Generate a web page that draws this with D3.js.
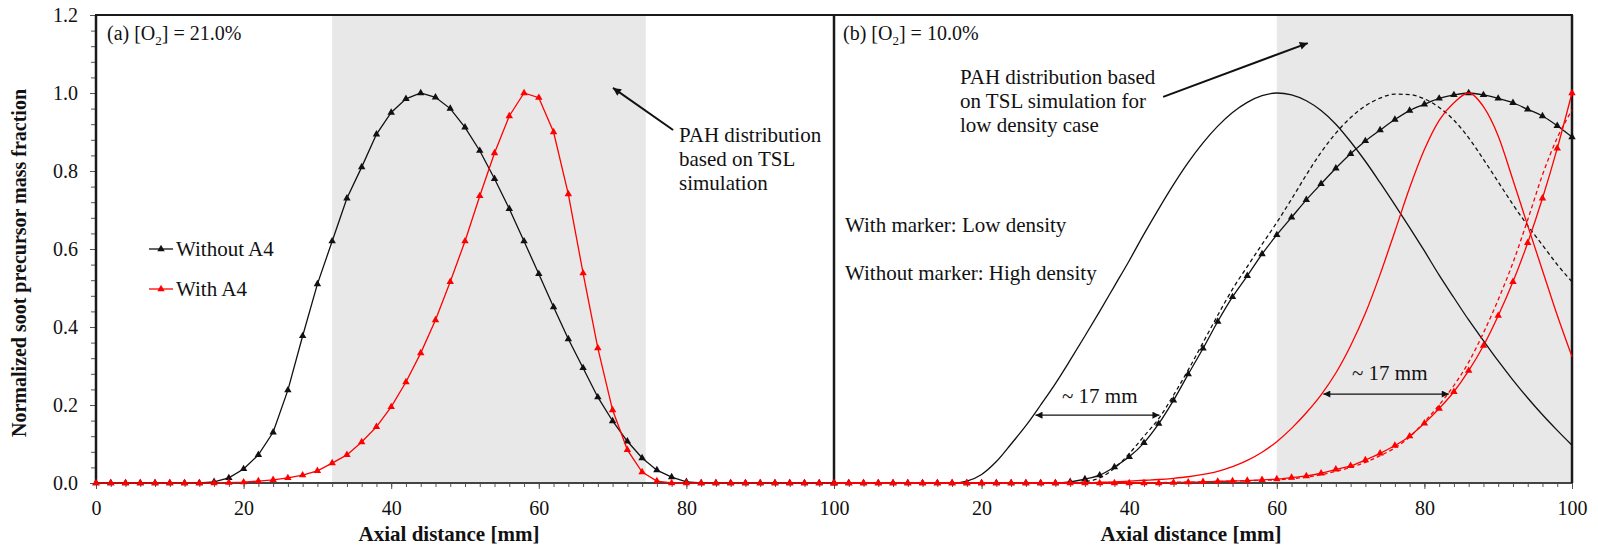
<!DOCTYPE html>
<html>
<head>
<meta charset="utf-8">
<script src="https://cdn.jsdelivr.net/npm/d3@7"></script>
<style>
  body { margin: 0; background: #fff; }
  svg text { font-family: "Liberation Serif", "Times New Roman", serif; fill: #111; }
</style>
</head>
<body>
<svg id="chart" width="1598" height="552"></svg>
<script>
// sample positions along the axis [mm]
const axial = [0, 2, 4, 6, 8, 10, 12, 14, 16, 18, 20, 22, 24, 26, 28, 30, 32, 34, 36, 38, 40,
  42, 44, 46, 48, 50, 52, 54, 56, 58, 60, 62, 64, 66, 68, 70, 72, 74, 76, 78, 80,
  82, 84, 86, 88, 90, 92, 94, 96, 98, 100]

// (a) [O2] = 21.0%
const a_withoutA4 = [0, 0, 0, 0, 0, 0, 0, 0, 0.003, 0.013, 0.036, 0.072, 0.13, 0.238, 0.377, 0.51, 0.62, 0.73, 0.81, 0.894, 0.95,
  0.985, 1.0, 0.989, 0.96, 0.912, 0.852, 0.78, 0.703, 0.62, 0.536, 0.451, 0.369, 0.295, 0.22, 0.159, 0.107, 0.064, 0.033, 0.015, 0.003,
  0, 0, 0, 0, 0, 0, 0, 0, 0, 0]
const a_withA4 = [0, 0, 0, 0, 0, 0, 0, 0, 0, 0.001, 0.002, 0.005, 0.008, 0.013, 0.02, 0.031, 0.051, 0.072, 0.105, 0.144, 0.195,
  0.259, 0.333, 0.418, 0.516, 0.62, 0.736, 0.846, 0.941, 1.0, 0.988, 0.9, 0.741, 0.538, 0.346, 0.187, 0.085, 0.028, 0.005, 0, 0,
  0, 0, 0, 0, 0, 0, 0, 0, 0, 0]

// (b) [O2] = 10.0%  -- marker = low density, no marker = high density, dashed = high density shifted
const b_lowNoA4 = [0, 0, 0, 0, 0, 0, 0, 0, 0, 0, 0, 0, 0, 0, 0, 0, 0.003, 0.01, 0.02, 0.041, 0.067,
  0.103, 0.152, 0.212, 0.279, 0.345, 0.414, 0.477, 0.531, 0.587, 0.636, 0.681, 0.726, 0.767, 0.807, 0.844, 0.877, 0.905, 0.932, 0.955, 0.971,
  0.986, 0.995, 1.0, 0.995, 0.986, 0.975, 0.958, 0.941, 0.916, 0.887]
const b_lowA4 = [0, 0, 0, 0, 0, 0, 0, 0, 0, 0, 0, 0, 0, 0, 0, 0, 0, 0, 0, 0, 0,
  0, 0, 0.001, 0.002, 0.003, 0.004, 0.005, 0.006, 0.008, 0.01, 0.014, 0.018, 0.025, 0.035, 0.044, 0.059, 0.076, 0.096, 0.12, 0.153,
  0.191, 0.234, 0.288, 0.352, 0.429, 0.516, 0.616, 0.73, 0.858, 1.0]
const b_highNoA4 = [0, 0, 0, 0, 0, 0, 0, 0, 0, 0.005, 0.022, 0.055, 0.1, 0.147, 0.2, 0.255, 0.315, 0.377, 0.44, 0.505, 0.57,
  0.638, 0.703, 0.765, 0.822, 0.872, 0.915, 0.95, 0.976, 0.993, 1.0, 0.995, 0.98, 0.955, 0.92, 0.875, 0.825, 0.77, 0.713, 0.655, 0.595,
  0.533, 0.475, 0.418, 0.365, 0.313, 0.264, 0.218, 0.175, 0.135, 0.097]
const b_highA4 = [0, 0, 0, 0, 0, 0, 0, 0, 0, 0, 0, 0, 0, 0, 0, 0, 0, 0, 0.002, 0.003, 0.005,
  0.007, 0.009, 0.012, 0.016, 0.022, 0.03, 0.042, 0.058, 0.079, 0.106, 0.14, 0.18, 0.226, 0.282, 0.352, 0.435, 0.535, 0.645, 0.757, 0.855,
  0.93, 0.975, 1.0, 0.965, 0.89, 0.777, 0.66, 0.545, 0.43, 0.324]
const b_shiftNoA4 = [0, 0, 0, 0, 0, 0, 0, 0, 0, 0, 0, 0, 0, 0, 0, 0, 0, 0.003, 0.013, 0.038, 0.075,
  0.12, 0.165, 0.225, 0.29, 0.36, 0.43, 0.497, 0.555, 0.612, 0.668, 0.728, 0.79, 0.848, 0.897, 0.937, 0.967, 0.987, 0.997, 0.996, 0.985,
  0.963, 0.93, 0.885, 0.83, 0.772, 0.714, 0.66, 0.61, 0.56, 0.516]
const b_shiftA4 = [0, 0, 0, 0, 0, 0, 0, 0, 0, 0, 0, 0, 0, 0, 0, 0, 0, 0, 0, 0, 0,
  0.001, 0.001, 0.002, 0.002, 0.003, 0.004, 0.005, 0.006, 0.007, 0.008, 0.011, 0.015, 0.021, 0.03, 0.04, 0.053, 0.07, 0.09, 0.118, 0.157,
  0.2, 0.25, 0.31, 0.385, 0.47, 0.565, 0.675, 0.79, 0.885, 0.956]

// axis ticks and shaded PAH windows
const xMajorA = [0, 20, 40, 60, 80, 100]
const xMajorB = [20, 40, 60, 80, 100]   // "0" of panel (b) sits under the "100" of panel (a)
const xMinor = [0, 2, 4, 6, 8, 10, 12, 14, 16, 18, 20, 22, 24, 26, 28, 30, 32, 34, 36, 38, 40,
  42, 44, 46, 48, 50, 52, 54, 56, 58, 60, 62, 64, 66, 68, 70, 72, 74, 76, 78, 80,
  82, 84, 86, 88, 90, 92, 94, 96, 98, 100]
const yMajor = [0, 0.2, 0.4, 0.6, 0.8, 1.0, 1.2]
const yMinor = [0, 0.04, 0.08, 0.12, 0.16, 0.2, 0.24, 0.28, 0.32, 0.36, 0.4, 0.44, 0.48, 0.52, 0.56, 0.6,
  0.64, 0.68, 0.72, 0.76, 0.8, 0.84, 0.88, 0.92, 0.96, 1.0, 1.04, 1.08, 1.12, 1.16, 1.2]
const shadeA = [32, 74.5]
const shadeB = [60, 100]

const RED = '#ff0000', BLACK = '#111'
const svg = d3.select('#chart')
const y = d3.scaleLinear().domain([0, 1.2]).range([483, 15])
const xA = d3.scaleLinear().domain([0, 100]).range([96, 834])
const xB = d3.scaleLinear().domain([0, 100]).range([834, 1572])

const defs = svg.append('defs')
function arrowHead(id, len, wid) {
  defs.append('marker')
    .attr('id', id).attr('markerUnits', 'userSpaceOnUse')
    .attr('viewBox', '0 0 10 10').attr('refX', 10).attr('refY', 5)
    .attr('markerWidth', len).attr('markerHeight', wid)
    .attr('orient', 'auto-start-reverse')
    .append('path').attr('d', 'M0,0 L10,5 L0,10 z').attr('fill', BLACK)
}
arrowHead('big', 11, 8)
arrowHead('small', 9, 7)

// shading
function shade(x, ext) {
  svg.append('rect')
    .attr('x', x(ext[0])).attr('y', y(1.2))
    .attr('width', x(ext[1]) - x(ext[0])).attr('height', y(0) - y(1.2))
    .attr('fill', '#e8e8e8')
}
shade(xA, shadeA)
shade(xB, shadeB)

// axes
function xAxis(x, major) {
  const g = svg.append('g').attr('transform', `translate(0,${y(0)})`)
  g.append('g').call(d3.axisBottom(x).tickValues(xMinor).tickSize(4).tickFormat(''))
  g.append('g').call(d3.axisBottom(x).tickValues(major).tickSize(6).tickPadding(12).tickFormat(d3.format('d')))
  g.selectAll('.domain').remove()
  g.selectAll('line').attr('stroke', '#555')
  g.selectAll('text').attr('font-size', 20).attr('fill', '#222')
}
xAxis(xA, xMajorA)
xAxis(xB, xMajorB)

const gy = svg.append('g').attr('transform', `translate(${xA(0)},0)`)
gy.append('g').call(d3.axisLeft(y).tickValues(yMinor).tickSize(5).tickFormat(''))
gy.append('g').call(d3.axisLeft(y).tickValues(yMajor).tickSize(6).tickPadding(12).tickFormat(d3.format('.1f')))
gy.selectAll('.domain').remove()
gy.selectAll('line').attr('stroke', '#555')
gy.selectAll('text').attr('font-size', 20).attr('fill', '#222')

// frame
const frame = svg.append('g').attr('stroke', '#1a1a1a').attr('fill', 'none')
frame.append('line').attr('x1', xA(0)).attr('x2', xB(100)).attr('y1', y(0)).attr('y2', y(0)).attr('stroke', '#444').attr('stroke-width', 2)
frame.append('line').attr('x1', xA(0) - 1).attr('x2', xB(100) + 1).attr('y1', y(1.2)).attr('y2', y(1.2)).attr('stroke-width', 2)
;[xA(0), xA(100), xB(100)].forEach(px => {
  frame.append('line').attr('x1', px).attr('x2', px).attr('y1', y(1.2)).attr('y2', y(0)).attr('stroke-width', 2.5)
})

// series
const tri = d3.symbol().type(d3.symbolTriangle).size(24)
function series(x, vals, color, opts) {
  const pts = axial.map((d, i) => [d, vals[i]])
  const line = d3.line().x(d => x(d[0])).y(d => y(d[1]))
    .curve(opts.smooth ? d3.curveMonotoneX : d3.curveLinear)
  svg.append('path').datum(pts)
    .attr('d', line).attr('fill', 'none').attr('stroke', color)
    .attr('stroke-width', 1.3)
    .attr('stroke-dasharray', opts.dash ? '4,3' : null)
  if (opts.marker) {
    svg.append('g').selectAll('path').data(pts).enter().append('path')
      .attr('d', tri).attr('fill', color)
      .attr('transform', d => `translate(${x(d[0])},${y(d[1])})`)
  }
}
series(xA, a_withoutA4, BLACK, { marker: true })
series(xA, a_withA4, RED, { marker: true })

series(xB, b_highNoA4, BLACK, { smooth: true })
series(xB, b_shiftNoA4, BLACK, { smooth: true, dash: true })
series(xB, b_lowNoA4, BLACK, { marker: true, smooth: true })
series(xB, b_highA4, RED, { smooth: true })
series(xB, b_shiftA4, RED, { smooth: true, dash: true })
series(xB, b_lowA4, RED, { marker: true, smooth: true })

// legend (a)
const legend = [['Without A4', BLACK, 249], ['With A4', RED, 289]]
legend.forEach(([label, color, ly]) => {
  svg.append('line').attr('x1', 149).attr('x2', 173).attr('y1', ly).attr('y2', ly)
    .attr('stroke', color).attr('stroke-width', 1.3)
  svg.append('path').attr('d', tri).attr('fill', color).attr('transform', `translate(161,${ly})`)
  svg.append('text').attr('x', 176).attr('y', ly + 7).attr('font-size', 21).text(label)
})

// panel titles
function panelTitle(px, pre, post) {
  const t = svg.append('text').attr('x', px).attr('y', 40).attr('font-size', 20)
  t.append('tspan').text(pre)
  t.append('tspan').attr('font-size', 13).attr('dy', 5).text('2')
  t.append('tspan').attr('dy', -5).text(post)
}
panelTitle(107, '(a) [O', '] = 21.0%')
panelTitle(843, '(b) [O', '] = 10.0%')

function multiline(px, py, lines) {
  const t = svg.append('text').attr('font-size', 21)
  lines.forEach((s, i) => t.append('tspan').attr('x', px).attr('y', py + i * 24).text(s))
}
multiline(679, 142, ['PAH distribution', 'based on TSL', 'simulation'])
multiline(960, 84, ['PAH distribution based', 'on TSL simulation for', 'low density case'])
multiline(845, 232, ['With marker: Low density'])
multiline(845, 280, ['Without marker: High density'])
multiline(1062, 403, ['~ 17 mm'])
multiline(1352, 380, ['~ 17 mm'])

// arrows
function arrow(x, x1, y1, x2, y2, head, both) {
  svg.append('line')
    .attr('x1', x(x1)).attr('y1', y(y1)).attr('x2', x(x2)).attr('y2', y(y2))
    .attr('stroke', BLACK).attr('stroke-width', head === 'big' ? 2 : 1.2)
    .attr('marker-end', `url(#${head})`)
    .attr('marker-start', both ? `url(#${head})` : null)
}
arrow(xA, 78.2, 0.905, 70.05, 1.013, 'big', false)
arrow(xB, 44.6, 0.99, 64.2, 1.128, 'big', false)
arrow(xB, 27.3, 0.174, 44.1, 0.174, 'small', true)
arrow(xB, 66.3, 0.228, 83.3, 0.228, 'small', true)

// axis titles
svg.append('text').attr('x', (xA(0) + xA(100)) / 2 - 16).attr('y', 541)
  .attr('text-anchor', 'middle').attr('font-size', 21).attr('font-weight', 'bold')
  .text('Axial distance [mm]')
svg.append('text').attr('x', (xB(0) + xB(100)) / 2 - 12).attr('y', 541)
  .attr('text-anchor', 'middle').attr('font-size', 21).attr('font-weight', 'bold')
  .text('Axial distance [mm]')
svg.append('text').attr('transform', `translate(26,${(y(0) + y(1.2)) / 2 + 14}) rotate(-90)`)
  .attr('text-anchor', 'middle').attr('font-size', 20).attr('font-weight', 'bold')
  .text('Normalized soot precursor mass fraction')
</script>
</body>
</html>
